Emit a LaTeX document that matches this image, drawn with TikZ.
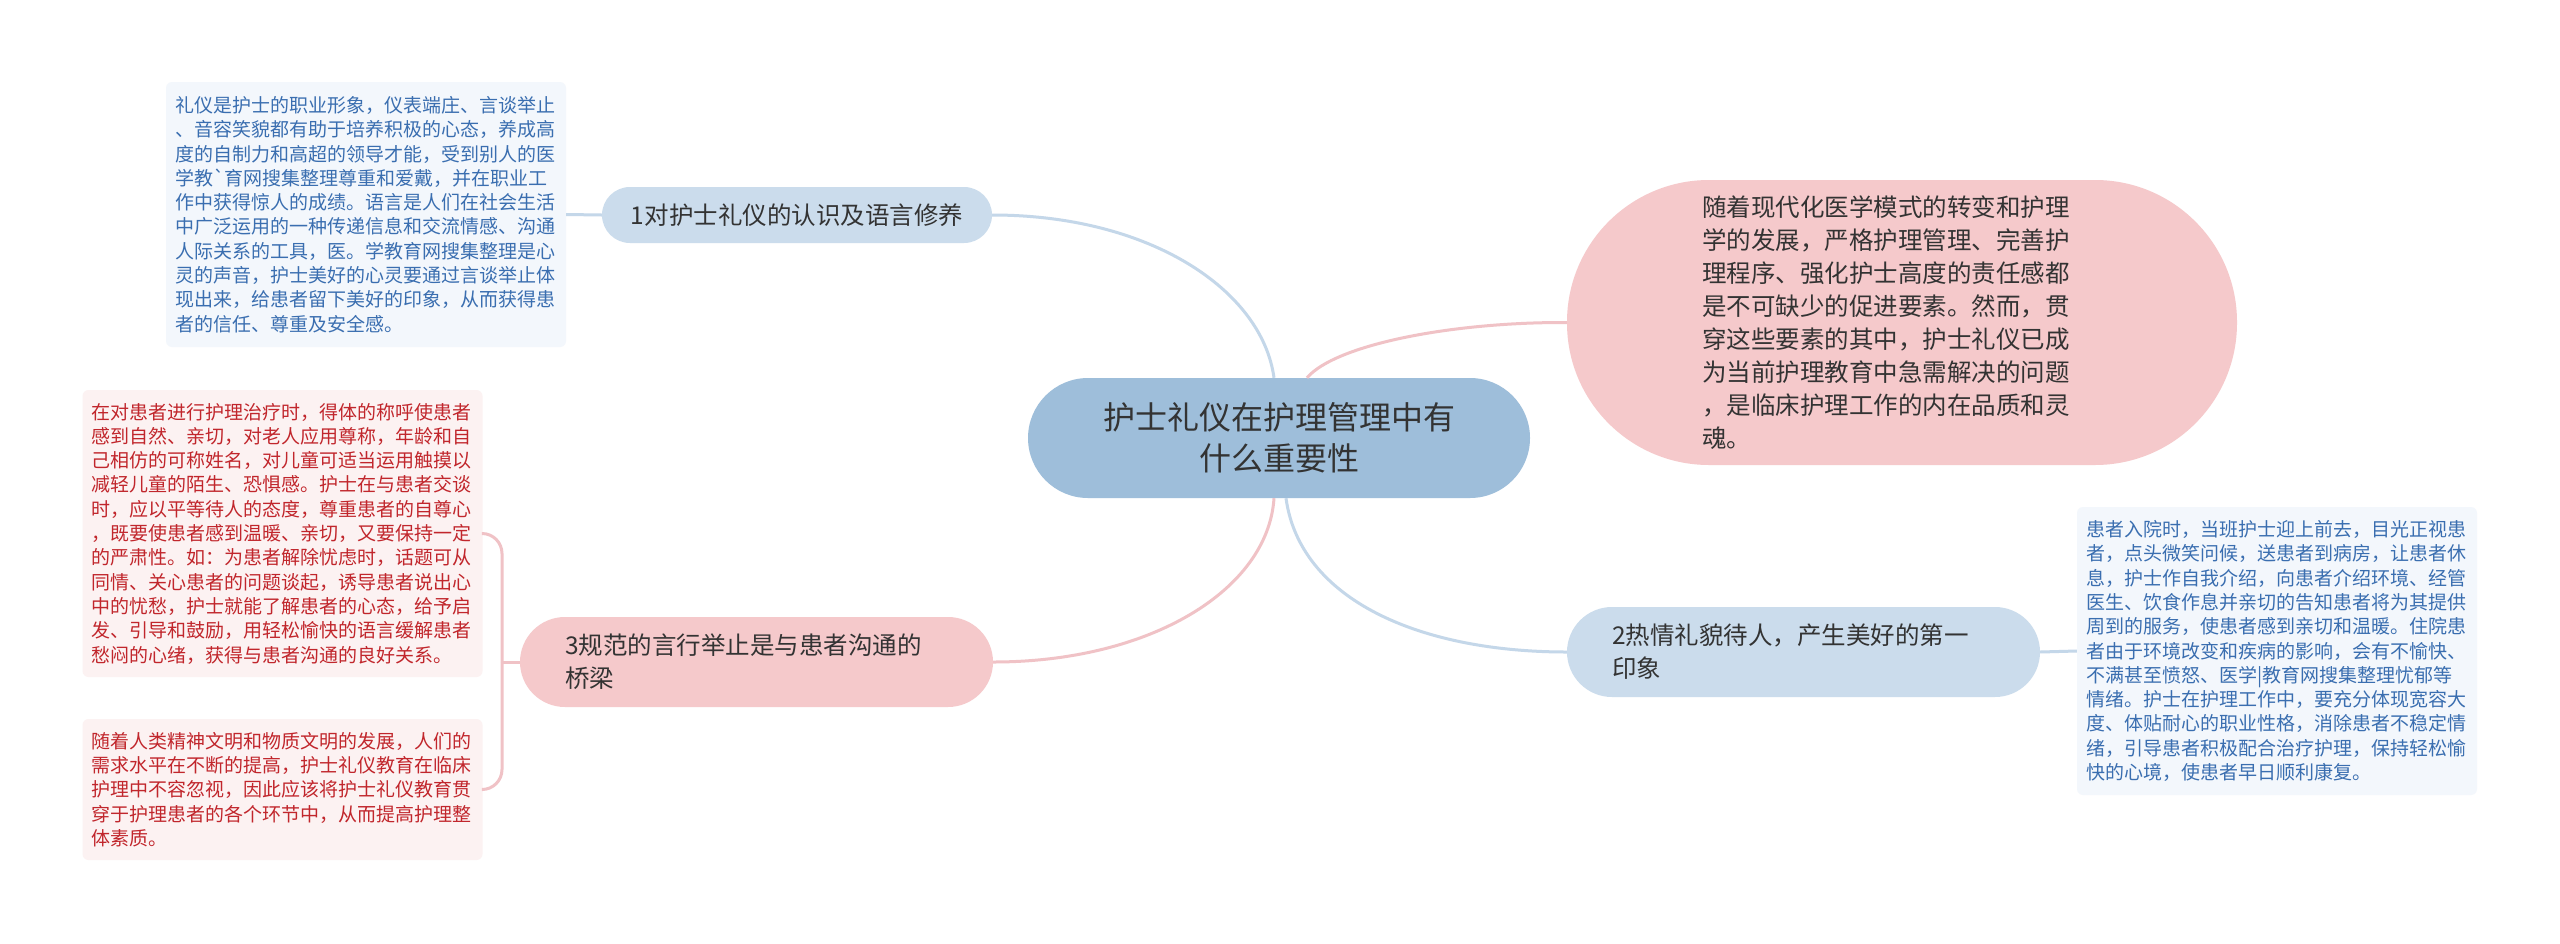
\documentclass[tikz,border=0pt]{standalone}
\usepackage{fontspec}
\setmainfont{Noto Sans CJK SC}
\newfontfamily\plaincjk{Noto Sans CJK SC}
\usepackage{xcolor}
\usepackage{tikz}

\definecolor{rootblue}{HTML}{9EBEDA}
\definecolor{topicblue}{HTML}{CBDCEC}
\definecolor{topicpink}{HTML}{F5C9CB}
\definecolor{noteblue}{HTML}{F3F7FC}
\definecolor{notered}{HTML}{FCF2F2}
\definecolor{notetxtblue}{HTML}{3A6EB0}
\definecolor{notetxtred}{HTML}{C1262C}
\definecolor{txtdark}{HTML}{333333}
\definecolor{lineblue}{HTML}{C4D7E9}
\definecolor{linepink}{HTML}{F0C2C6}

\begin{document}
\begin{tikzpicture}[x=1pt, y=-1pt,
  root/.style={fill=rootblue, text=txtdark, rounded corners=60pt, align=center,
    minimum width=502pt, minimum height=120pt, font=\fontsize{32}{41}\selectfont},
  topic/.style={text=txtdark, font=\fontsize{24.5}{33}\selectfont},
  widetopic/.style={topic, align=left, inner xsep=45pt, text width=383pt,
    minimum height=90pt, rounded corners=45pt},
  note/.style={rounded corners=6pt, align=left, inner xsep=9pt, text width=382pt,
    font=\fontsize{19}{24.3}\selectfont},
  bluenote/.style={note, fill=noteblue, text=notetxtblue},
  rednote/.style={note, fill=notered, text=notetxtred},
  blueline/.style={draw=lineblue, line width=3pt},
  pinkline/.style={draw=linepink, line width=3pt}]

  \fill[white] (0,0) rectangle (2560,943);
  \useasboundingbox (0,0) rectangle (2560,943);

  % CENTRE
  \node[root] (root) at (1279,438) {护士礼仪在护理管理中有\\什么重要性};

  % BRANCHES
  \node[topic, fill=topicblue, rounded corners=28pt, minimum width=390pt,
    minimum height=56pt] (t1) at (797,215) {1对护士礼仪的认识及语言修养};
  \node[widetopic, fill=topicblue] (t2) at (1803.5,652)
    {2热情礼貌待人，产生美好的第一\\印象};
  \node[widetopic, fill=topicpink] (t3) at (756.5,662)
    {3规范的言行举止是与患者沟通的\\桥梁};
  \node[topic, fill=topicpink, align=left, inner xsep=135pt, text width=400pt,
    minimum height=285pt, rounded corners=142pt] (t4) at (1902,322.5)
    {随着现代化医学模式的转变和护理\\
     学的发展，严格护理管理、完善护\\
     理程序、强化护士高度的责任感都\\
     是不可缺少的促进要素。然而，贯\\
     穿这些要素的其中，护士礼仪已成\\
     为当前护理教育中急需解决的问题\\
     ，是临床护理工作的内在品质和灵\\
     魂。};

  % NOTES
  \node[bluenote, minimum height=265pt] (n1) at (366,214.5)
    {礼仪是护士的职业形象，仪表端庄、言谈举止\\
     、音容笑貌都有助于培养积极的心态，养成高\\
     度的自制力和高超的领导才能，受到别人的医\\
     学教{\plaincjk`}育网搜集整理尊重和爱戴，并在职业工\\
     作中获得惊人的成绩。语言是人们在社会生活\\
     中广泛运用的一种传递信息和交流情感、沟通\\
     人际关系的工具，医。学教育网搜集整理是心\\
     灵的声音，护士美好的心灵要通过言谈举止体\\
     现出来，给患者留下美好的印象，从而获得患\\
     者的信任、尊重及安全感。};
  \node[bluenote, minimum height=288pt] (n2) at (2277,651)
    {患者入院时，当班护士迎上前去，目光正视患\\
     者，点头微笑问候，送患者到病房，让患者休\\
     息，护士作自我介绍，向患者介绍环境、经管\\
     医生、饮食作息并亲切的告知患者将为其提供\\
     周到的服务，使患者感到亲切和温暖。住院患\\
     者由于环境改变和疾病的影响，会有不愉快、\\
     不满甚至愤怒、医学|教育网搜集整理忧郁等\\
     情绪。护士在护理工作中，要充分体现宽容大\\
     度、体贴耐心的职业性格，消除患者不稳定情\\
     绪，引导患者积极配合治疗护理，保持轻松愉\\
     快的心境，使患者早日顺利康复。};
  \node[rednote, minimum height=287pt] (n3a) at (282.5,533.5)
    {在对患者进行护理治疗时，得体的称呼使患者\\
     感到自然、亲切，对老人应用尊称，年龄和自\\
     己相仿的可称姓名，对儿童可适当运用触摸以\\
     减轻儿童的陌生、恐惧感。护士在与患者交谈\\
     时，应以平等待人的态度，尊重患者的自尊心\\
     ，既要使患者感到温暖、亲切，又要保持一定\\
     的严肃性。如：为患者解除忧虑时，话题可从\\
     同情、关心患者的问题谈起，诱导患者说出心\\
     中的忧愁，护士就能了解患者的心态，给予启\\
     发、引导和鼓励，用轻松愉快的语言缓解患者\\
     愁闷的心绪，获得与患者沟通的良好关系。};
  \node[rednote, minimum height=141pt] (n3b) at (282.5,789.5)
    {随着人类精神文明和物质文明的发展，人们的\\
     需求水平在不断的提高，护士礼仪教育在临床\\
     护理中不容忽视，因此应该将护士礼仪教育贯\\
     穿于护理患者的各个环节中，从而提高护理整\\
     体素质。};

  % LIENS
  \draw[blueline] ([xshift=-5pt]root.north) .. controls (1262,290) and (1150,215) .. (t1.east);
  \draw[pinkline] ([xshift=28pt]root.north) .. controls (1335,345) and (1450,322) .. (t4.west);
  \draw[pinkline] ([xshift=-5pt]root.south) .. controls (1268,590) and (1150,662) .. (t3.east);
  \draw[blueline] ([xshift=7pt]root.south) .. controls (1300,600) and (1420,652) .. (t2.west);

  \draw[blueline] (t1.west) -- (n1.east);
  \draw[blueline] (t2.east) -- (n2.west);

  % accolade vers les deux notes
  \coordinate (fork) at (502,662);
  \draw[pinkline] (t3.west) -- (fork);
  \draw[pinkline, rounded corners=20pt] (fork) |- (n3a.east);
  \draw[pinkline, rounded corners=20pt] (fork) |- (n3b.east);
\end{tikzpicture}
\end{document}
